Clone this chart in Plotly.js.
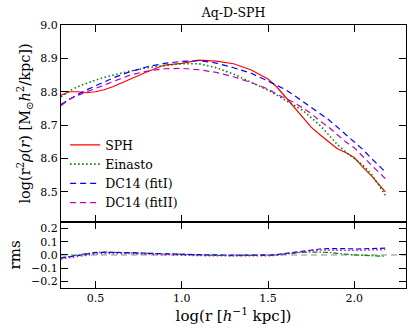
<!DOCTYPE html>
<html><head><meta charset="utf-8">
<script src="https://cdn.plot.ly/plotly-3.0.1.min.js"></script>
<style>html,body{margin:0;padding:0;background:#fff}#c{width:415px;height:336px}</style>
</head><body><div id="c"></div>
<script>
const logR = [0.30,0.35,0.40,0.45,0.50,0.55,0.60,0.70,0.80,0.90,1.00,1.10,1.20,1.30,1.40,1.50,1.55,1.60,1.65,1.70,1.75,1.80,1.85,1.90,1.95,2.00,2.05,2.10,2.15,2.18];
const sph     = [8.790,8.800,8.800,8.797,8.800,8.806,8.815,8.838,8.860,8.880,8.885,8.895,8.892,8.884,8.866,8.838,8.815,8.785,8.755,8.722,8.694,8.672,8.650,8.630,8.618,8.603,8.574,8.548,8.518,8.500];
const einasto = [8.785,8.803,8.816,8.826,8.835,8.843,8.850,8.862,8.872,8.879,8.884,8.884,8.872,8.853,8.830,8.805,8.790,8.774,8.760,8.745,8.722,8.700,8.672,8.643,8.620,8.600,8.580,8.553,8.515,8.490];
const dc14I   = [8.762,8.778,8.793,8.806,8.817,8.830,8.841,8.860,8.875,8.885,8.891,8.893,8.886,8.872,8.856,8.832,8.820,8.807,8.790,8.772,8.752,8.735,8.717,8.695,8.673,8.650,8.627,8.600,8.575,8.560];
const dc14II  = [8.758,8.778,8.790,8.800,8.810,8.820,8.828,8.850,8.862,8.869,8.870,8.866,8.858,8.845,8.828,8.808,8.793,8.780,8.768,8.752,8.735,8.713,8.695,8.672,8.650,8.632,8.605,8.580,8.555,8.540];
const rmsEin  = [-0.020,-0.010,0.005,0.015,0.020,0.022,0.020,0.015,0.010,0.005,0.003,0.000,-0.003,-0.005,-0.005,-0.005,0.000,0.008,0.015,0.020,0.022,0.022,0.020,0.012,0.005,0.000,-0.003,-0.006,-0.009,-0.010];
const rmsI    = [-0.025,-0.015,0.000,0.010,0.017,0.020,0.020,0.018,0.013,0.008,0.005,0.002,0.000,-0.002,-0.002,-0.002,0.003,0.012,0.022,0.032,0.040,0.045,0.048,0.050,0.048,0.045,0.045,0.047,0.050,0.052];
const rmsII   = [-0.030,-0.020,-0.008,0.000,0.008,0.012,0.013,0.010,0.005,0.000,-0.003,-0.005,-0.007,-0.008,-0.008,-0.007,-0.002,0.007,0.017,0.027,0.033,0.037,0.038,0.037,0.035,0.035,0.035,0.037,0.040,0.042];
const names = ['SPH','Einasto','DC14 (fitI)','DC14 (fitII)'];
const xTicks = [0.5,1.0,1.5,2.0];
const yTicksMain = [8.5,8.6,8.7,8.8,8.9,9.0];
const yTicksRms = [-0.2,-0.1,0.0,0.1,0.2];

const F = 'DejaVu Serif, serif';
const RED='#ff0000', GRN='#008000', BLU='#0000ff', MAG='#bf00bf';
const traces = [
  {x:logR,y:sph,name:names[0],mode:'lines',line:{color:RED,width:1.2},xaxis:'x2',yaxis:'y'},
  {x:logR,y:einasto,name:names[1],mode:'lines',line:{color:GRN,width:1.6,dash:'1.5px,2.5px'},xaxis:'x2',yaxis:'y'},
  {x:logR,y:dc14I,name:names[2],mode:'lines',line:{color:BLU,width:1.2,dash:'6px,4px'},xaxis:'x2',yaxis:'y'},
  {x:logR,y:dc14II,name:names[3],mode:'lines',line:{color:MAG,width:1.2,dash:'6px,4px'},xaxis:'x2',yaxis:'y'},
  {x:logR,y:rmsEin,mode:'lines',showlegend:false,line:{color:GRN,width:1.2,dash:'5px,2px,1.5px,2px'},xaxis:'x',yaxis:'y2'},
  {x:logR,y:rmsI,mode:'lines',showlegend:false,line:{color:BLU,width:1.2,dash:'5px,3px'},xaxis:'x',yaxis:'y2'},
  {x:logR,y:rmsII,mode:'lines',showlegend:false,line:{color:MAG,width:1.4,dash:'1.5px,2.5px'},xaxis:'x',yaxis:'y2'}
];
const ax = {showline:true,linecolor:'#000',linewidth:1,mirror:'ticks',ticks:'inside',ticklen:7,tickwidth:1,tickcolor:'#000',
  showgrid:false,zeroline:false,tickfont:{family:F,size:11,color:'#000'}};
const split = 0.2512;
const layout = {
  width:415,height:336,paper_bgcolor:'#fff',plot_bgcolor:'#fff',
  margin:{l:61,r:8.5,t:25,b:48.3},
  font:{family:F,color:'#000'},
  title:{text:'Aq-D-SPH',font:{family:F,size:12.5,color:'#000'},x:0.563,xanchor:'center',y:0.962,yanchor:'middle',yref:'container'},
  showlegend:true,
  legend:{x:0.012,y:0.6,xanchor:'left',yanchor:'top',bgcolor:'rgba(0,0,0,0)',borderwidth:0,
    font:{family:F,size:12.5,color:'#000'},tracegroupgap:0,itemwidth:30},
  xaxis:Object.assign({},ax,{anchor:'y2',domain:[0,1],range:[0.3,2.3],tickvals:xTicks,ticktext:xTicks.map(v=>v.toFixed(1)),
    title:{text:'log(r [<i>h</i><sup>−1</sup> kpc])',font:{family:F,size:15,color:'#000'},standoff:5}}),
  xaxis2:Object.assign({},ax,{anchor:'y',domain:[0,1],range:[0.3,2.3],matches:'x',tickvals:xTicks,showticklabels:false}),
  yaxis:Object.assign({},ax,{domain:[split,1],anchor:'x2',range:[8.41,9.0],tickvals:yTicksMain,ticktext:yTicksMain.map(v=>v.toFixed(1)),
    title:{text:'log(r<sup>2</sup><i>ρ</i>(<i>r</i>) [M<sub>⊙</sub><i>h</i><sup>2</sup>/kpc])',font:{family:F,size:14.5,color:'#000'},standoff:6}}),
  yaxis2:Object.assign({},ax,{domain:[0,split],anchor:'x',range:[-0.25,0.25],tickvals:yTicksRms,ticktext:yTicksRms.map(v=>v===0?'0.0':(v<0?'−':'')+Math.abs(v).toFixed(1)),
    title:{text:'rms',font:{family:F,size:15,color:'#000'},standoff:6}}),
  shapes:[{type:'line',xref:'x domain',yref:'y2',x0:0,x1:1,y0:0,y1:0,line:{color:'#888',width:1,dash:'6px,4px'},layer:'below'}]
};
Plotly.newPlot('c',traces,layout,{staticPlot:true,displayModeBar:false});
</script></body></html>
